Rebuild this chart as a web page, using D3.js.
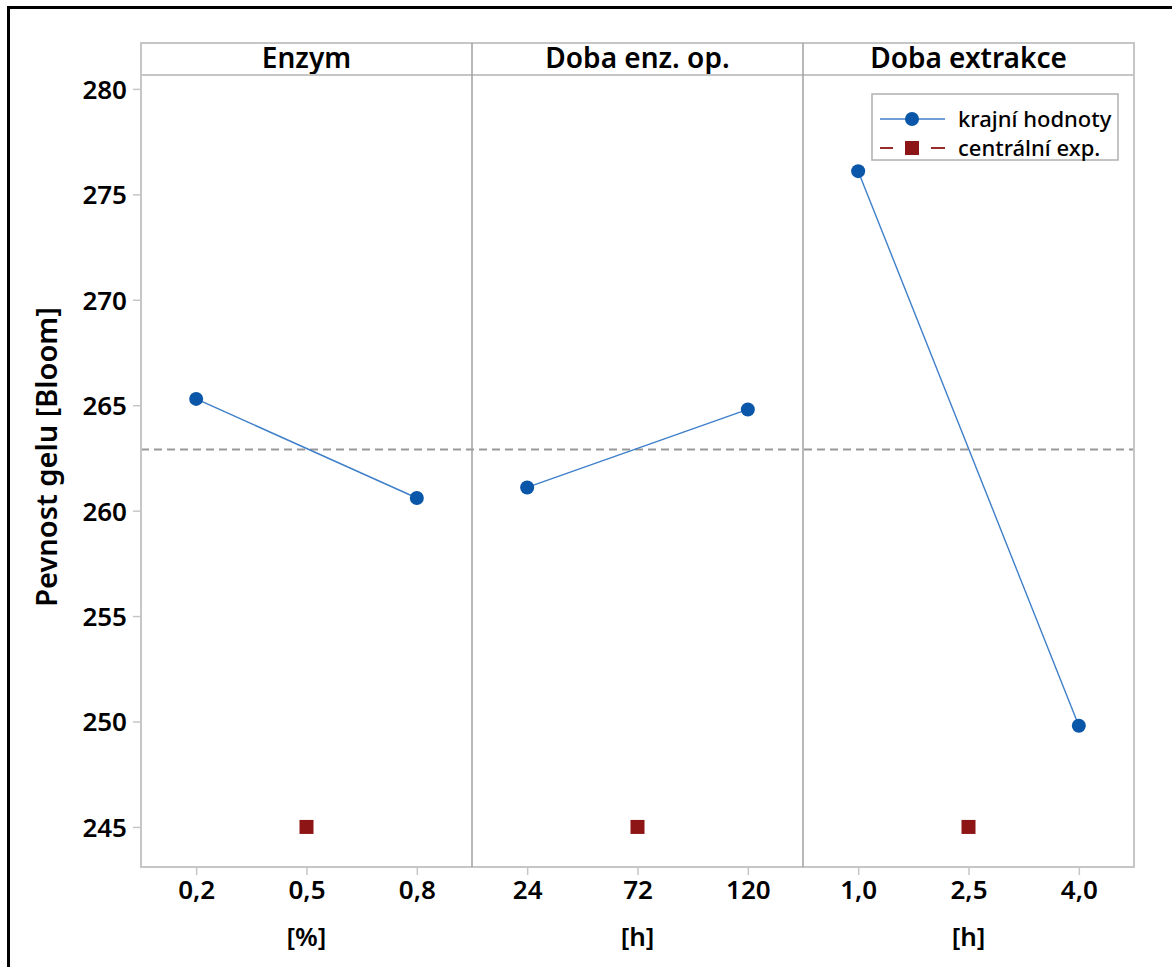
<!DOCTYPE html>
<html>
<head>
<meta charset="utf-8">
<script src="https://cdn.jsdelivr.net/npm/d3@7"></script>
<style>
  html, body { margin: 0; padding: 0; background: #fff; }
  svg { display: block; font-family: "Noto Sans", "Open Sans", sans-serif; }
</style>
</head>
<body>
<svg id="chart" width="1172" height="967"></svg>
<script>
// Factors of the experiment and their coded levels
const factors = ["Enzym", "Doba enz. op.", "Doba extrakce"];
const units = ["[%]", "[h]", "[h]"];
const lowLevels = [0.2, 24, 1.0];
const centerLevels = [0.5, 72, 2.5];
const highLevels = [0.8, 120, 4.0];
const levelLabels = [["0,2", "0,5", "0,8"], ["24", "72", "120"], ["1,0", "2,5", "4,0"]];

// Mean gel strength at the extreme levels and at the centre point
const lowMeans = [265.3, 261.1, 276.1];
const highMeans = [260.6, 264.8, 249.8];
const centerMeans = [245, 245, 245];
const grandMean = 262.9;

const yTicks = [245, 250, 255, 260, 265, 270, 275, 280];
const legendLabels = ["krajní hodnoty", "centrální exp."];

(function draw() {
  const svg = d3.select("#chart");
  const W = 1172, H = 967;
  const pLeft = 141, pRight = 1134, stripTop = 43, pTop = 75, pBottom = 867;

  const blue = "#0a56a8", blueLine = "#3f7fc9", red = "#8e1515", frame = "#c6c6c6";
  const fontFamily = '"Noto Sans", "Open Sans", sans-serif';
  const tickFont = "26px", tickWeight = 600;

  // Outer frame
  svg.append("rect").attr("x", 8.5).attr("y", 7.5).attr("width", W + 20).attr("height", H + 20)
    .attr("fill", "none").attr("stroke", "#000").attr("stroke-width", 3);

  const y = d3.scaleLinear().domain([243.1, 280.66]).range([pBottom, pTop]);

  // Panel bands
  const panel = d3.scaleBand().domain(factors).range([pLeft, pRight]);

  // Y axis
  const yAxis = d3.axisLeft(y).tickValues(yTicks).tickSize(8).tickPadding(6).tickFormat(d3.format("d"));
  const ya = svg.append("g").attr("transform", `translate(${pLeft},0)`).call(yAxis)
    .attr("font-family", fontFamily);
  ya.select(".domain").remove();
  ya.selectAll(".tick line").attr("stroke", frame).attr("stroke-width", 1.5);
  ya.selectAll(".tick text").attr("fill", "#000").style("font-size", tickFont).style("font-weight", tickWeight)
    .attr("dy", "0.36em");

  svg.append("text")
    .attr("transform", `translate(57,457) rotate(-90)`)
    .attr("text-anchor", "middle")
    .style("font-size", "29px").style("font-weight", 600)
    .text("Pevnost gelu [Bloom]");

  // Reference line at the grand mean
  svg.append("line")
    .attr("x1", pLeft).attr("x2", pRight).attr("y1", y(grandMean)).attr("y2", y(grandMean))
    .attr("stroke", "#999").attr("stroke-width", 2).attr("stroke-dasharray", "8,5");

  factors.forEach((f, i) => {
    const x0 = panel(f), x1 = x0 + panel.bandwidth();
    const span = highLevels[i] - lowLevels[i];
    const x = d3.scaleLinear()
      .domain([lowLevels[i] - span / 4, highLevels[i] + span / 4])
      .range([x0, x1]);
    const g = svg.append("g");

    // strip header
    g.append("text").attr("x", (x0 + x1) / 2).attr("y", 68)
      .attr("text-anchor", "middle").style("font-size", "28px").style("font-weight", 600)
      .text(f);

    // x axis
    const xa = g.append("g").attr("transform", `translate(0,${pBottom})`)
      .call(d3.axisBottom(x)
        .tickValues([lowLevels[i], centerLevels[i], highLevels[i]])
        .tickFormat((d, k) => levelLabels[i][k])
        .tickSize(8).tickPadding(8))
      .attr("font-family", fontFamily);
    xa.select(".domain").remove();
    xa.selectAll(".tick line").attr("stroke", frame).attr("stroke-width", 1.5);
    xa.selectAll(".tick text").attr("fill", "#000").style("font-size", tickFont).style("font-weight", tickWeight)
      .attr("dy", "0.6em");

    g.append("text").attr("x", x(centerLevels[i])).attr("y", 946)
      .attr("text-anchor", "middle").style("font-size", tickFont).style("font-weight", tickWeight)
      .text(units[i]);

    // line between the extreme levels
    const pts = [[lowLevels[i], lowMeans[i]], [highLevels[i], highMeans[i]]];
    g.append("path")
      .attr("d", d3.line().x(d => x(d[0])).y(d => y(d[1]))(pts))
      .attr("fill", "none").attr("stroke", blueLine).attr("stroke-width", 1.4);
    g.selectAll("circle").data(pts).join("circle")
      .attr("cx", d => x(d[0])).attr("cy", d => y(d[1])).attr("r", 7)
      .attr("fill", blue);

    // centre point
    const s = 14;
    g.append("rect")
      .attr("x", x(centerLevels[i]) - s / 2).attr("y", y(centerMeans[i]) - s / 2)
      .attr("width", s).attr("height", s).attr("fill", red);
  });

  // Panel frame: strip, plot area and dividers
  const fg = svg.append("g").attr("fill", "none");
  fg.append("rect").attr("x", pLeft).attr("y", stripTop).attr("width", pRight - pLeft).attr("height", pBottom - stripTop)
    .attr("stroke", frame).attr("stroke-width", 2);
  fg.append("line").attr("x1", pLeft).attr("x2", pRight).attr("y1", pTop).attr("y2", pTop)
    .attr("stroke", frame).attr("stroke-width", 2);
  factors.slice(1).forEach(f => {
    fg.append("line").attr("x1", panel(f)).attr("x2", panel(f)).attr("y1", stripTop).attr("y2", pBottom)
      .attr("stroke", "#a0a0a0").attr("stroke-width", 1.5);
  });

  // Legend
  const lg = svg.append("g");
  lg.append("rect").attr("x", 872).attr("y", 94).attr("width", 246).attr("height", 66)
    .attr("fill", "#fff").attr("stroke", "#b0b0b0").attr("stroke-width", 1.5);
  const rows = [119, 148];
  lg.append("line").attr("x1", 880).attr("x2", 945).attr("y1", rows[0]).attr("y2", rows[0])
    .attr("stroke", blueLine).attr("stroke-width", 1.4);
  lg.append("circle").attr("cx", 912).attr("cy", rows[0]).attr("r", 7).attr("fill", blue);
  [[880, 893], [931, 945]].forEach(([a, b]) => {
    lg.append("line").attr("x1", a).attr("x2", b).attr("y1", rows[1]).attr("y2", rows[1])
      .attr("stroke", red).attr("stroke-width", 1.8);
  });
  lg.append("rect").attr("x", 905).attr("y", rows[1] - 7).attr("width", 14).attr("height", 14).attr("fill", red);
  legendLabels.forEach((t, k) => {
    lg.append("text").attr("x", 958).attr("y", rows[k]).attr("dy", "0.35em")
      .style("font-size", "22px").style("font-weight", 500).text(t);
  });
})();
</script>
</body>
</html>
